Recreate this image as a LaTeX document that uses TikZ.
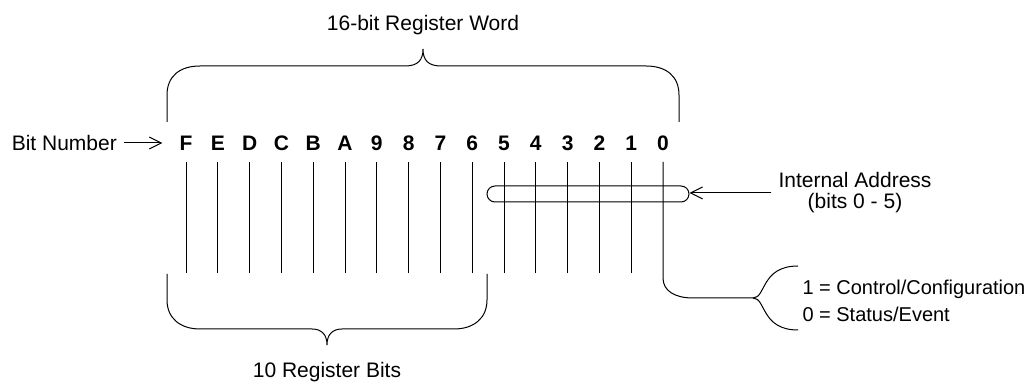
\documentclass[tikz,border=0pt]{standalone}
\usepackage{fontspec}
\setmainfont{Liberation Sans}
\usepackage{tikz}
\usetikzlibrary{arrows.meta,shapes.misc}

\begin{document}
\begin{tikzpicture}[x=0.5pt, y=-0.5pt, line width=0.5pt,
    bitlabel/.style={font=\fontsize{10.5}{12}\selectfont\bfseries},
    txt/.style={font=\fontsize{10.5}{10.5}\selectfont},
    openarrow/.style={-{Straight Barb[length=6pt,width=6pt,line width=0.5pt]}}]
    \useasboundingbox (0,0) rectangle (1034,384);

    % bit numbers F ... 0
    \foreach \lab [count=\i from 0] in {0,1,2,3,4,5,6,7,8,9,A,B,C,D,E,F}
        \node[bitlabel] (b\i) at (663-31.8*\i, 143) {\lab};

    % draw vertical bars
    \foreach \i in {1, 2, ..., 15}
        \draw (b\i) ++(0,19) -- ++(0,111);

    \node[txt, anchor=east] (bitnum) at (124,143) {Bit Number};
    \draw[openarrow] (bitnum.east) -- ([xshift=-5pt]b15.west);

    % 16-bit brace on top
    \draw (167,122) -- (167,95) .. controls (167,76) and (180,66) .. (200,66)
        -- (405,66) .. controls (418,66) and (423,60) .. (423,49)
        .. controls (423,60) and (428,66) .. (441,66)
        -- (646,66) .. controls (666,66) and (679,76) .. (679,95) -- (679,122);
    \node[txt] (word) at (423,25) {16-bit Register Word};

    % 10 register bits brace
    \draw (167,274) -- (167,300) .. controls (167,318) and (180,329) .. (200,329)
        -- (312,329) .. controls (322,329) and (327,335) .. (327,345)
        .. controls (327,335) and (332,329) .. (342,329)
        -- (454,329) .. controls (474,329) and (487,318) .. (487,300) -- (487,274);
    \node[txt] (regbits) at (327,372) {10 Register Bits};

    % internal address
    \node[draw, rounded rectangle, minimum width=101pt, minimum height=8pt,
        inner sep=0pt] (addr) at (588,194) {};
    \node[txt, align=center] (iaddr) at (855,193) {Internal Address\\(bits 0 - 5)};
    \draw[openarrow] (iaddr.west) -- (iaddr.west -| addr.east);

    % bit 0 selects register type
    \coordinate (sel) at (753,298);
    \draw (b0) ++(0,19) -- (663,278) .. controls (663,291) and (675,298) .. (693,298)
        -- (sel);
    \draw (sel) .. controls (766,298) and (761,266) .. (798,266);
    \draw (sel) .. controls (766,298) and (761,330) .. (798,330);
    \node[anchor=west, inner sep=0pt, align=left,
        font=\fontsize{10}{13.5}\selectfont] (regtype) at (802,300.5)
        {1 = Control/Configuration\\0 = Status/Event};
\end{tikzpicture}
\end{document}
